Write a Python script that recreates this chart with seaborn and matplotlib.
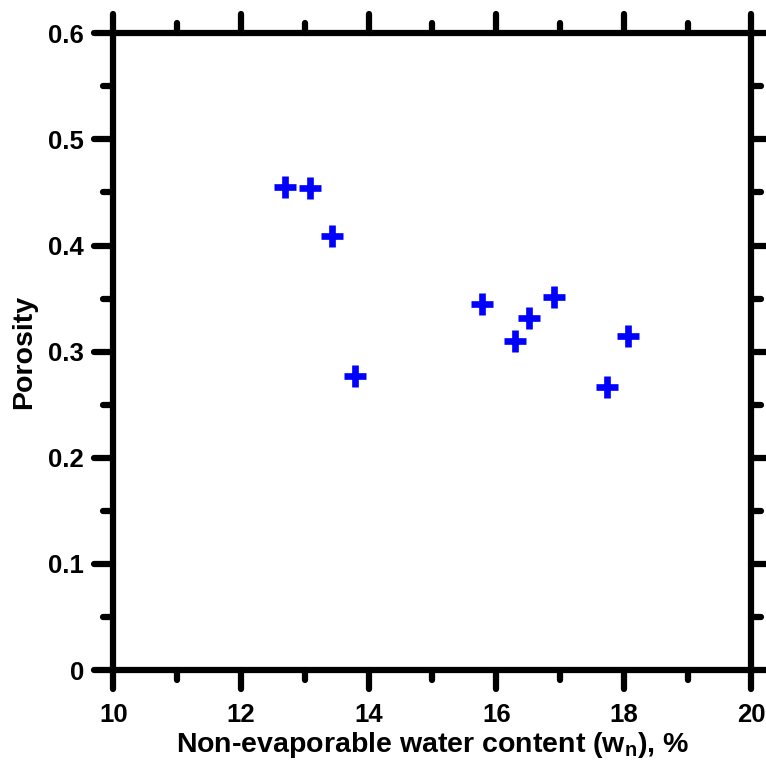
import pandas as pd
import matplotlib
matplotlib.use("Agg")
import matplotlib.pyplot as plt
from matplotlib.markers import MarkerStyle
from matplotlib.ticker import MultipleLocator
import seaborn as sns

# data
wn = [12.69, 13.08, 13.42, 13.79, 15.78, 16.29, 16.52, 16.90, 17.74, 18.06]
porosity = [0.455, 0.454, 0.409, 0.277, 0.345, 0.310, 0.332, 0.352, 0.267, 0.315]
xticks = [10, 12, 14, 16, 18, 20]
yticks = [0, 0.1, 0.2, 0.3, 0.4, 0.5, 0.6]

df = pd.DataFrame({"wn": wn, "porosity": porosity})

sns.set_style("ticks")
plt.rcParams["font.family"] = ["Liberation Sans", "DejaVu Sans"]
plt.rcParams["font.weight"] = "bold"
plt.rcParams["text.color"] = "black"
plt.rcParams["axes.labelcolor"] = "black"
plt.rcParams["xtick.color"] = "black"
plt.rcParams["ytick.color"] = "black"
plt.rcParams["mathtext.fontset"] = "custom"
plt.rcParams["mathtext.rm"] = "Liberation Sans:bold"
plt.rcParams["mathtext.it"] = "Liberation Sans:bold"
plt.rcParams["mathtext.bf"] = "Liberation Sans:bold"

fig = plt.figure(figsize=(7.66, 7.65), dpi=100)
ax = fig.add_axes([0.148, 0.124, 0.833, 0.8325])

sns.scatterplot(data=df, x="wn", y="porosity", marker="+", s=270,
                linewidth=4.8, color="#0000ff", ax=ax, legend=False)

ax.set_xlim(10, 20)
ax.set_ylim(0, 0.6)
ax.set_xticks(xticks)
ax.set_yticks(yticks)
ax.set_yticklabels(["0", "0.1", "0.2", "0.3", "0.4", "0.5", "0.6"])
ax.xaxis.set_minor_locator(MultipleLocator(1))
ax.yaxis.set_minor_locator(MultipleLocator(0.05))

for sp in ax.spines.values():
    sp.set_visible(True)
    sp.set_linewidth(4.5)
    sp.set_color("black")

ax.tick_params(which="both", direction="out", width=4.5, color="black",
               labelcolor="black", top=True, right=True,
               labeltop=False, labelright=False)
ax.tick_params(which="major", length=14, labelsize=18.5)
ax.tick_params(axis="x", which="major", pad=10)
ax.tick_params(axis="y", which="major", pad=7)
ax.tick_params(which="minor", length=7)

ax.set_xlabel(r"Non-evaporable water content (w$_\mathregular{n}$), %",
              fontsize=20.5, fontweight="bold", labelpad=2)
ax.set_ylabel("Porosity", fontsize=20.5, fontweight="bold", labelpad=8)

# round caps on the tick marks
for ln in (ax.xaxis.get_majorticklines() + ax.xaxis.get_minorticklines()
           + ax.yaxis.get_majorticklines() + ax.yaxis.get_minorticklines()):
    ln.set_marker(MarkerStyle(ln.get_marker(), capstyle="round"))

fig.savefig("out.png", dpi=100)
